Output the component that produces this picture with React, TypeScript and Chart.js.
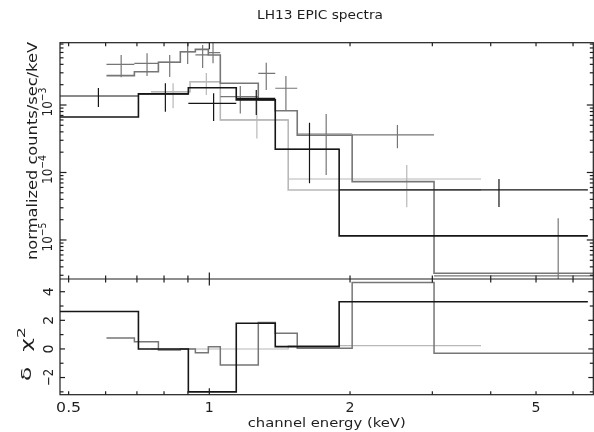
import React, { useEffect, useRef } from 'react';
import { Chart, registerables } from 'chart.js';

Chart.register(...registerables);

// ---------- text ----------
const TITLE = 'LH13 EPIC spectra';
const X_TITLE = 'channel energy (keV)';
const Y_TITLE = 'normalized counts/sec/keV';
const RES_TITLE = 'δ  χ';
const RES_TITLE_SUP = '2';

// ---------- axes ----------
const X_RANGE = [0.4792, 6.63];
const Y_TOP_RANGE = [2.643e-6, 8.375e-3];
const Y_RES_RANGE = [-3.2, 4.89];

const X_LABEL_TICKS = [0.5, 1, 2, 5];
const X_LABELS = ['0.5', '1', '2', '5'];
const X_MAJOR_TICKS = [1];
const X_MINOR_TICKS = [0.5, 0.6, 0.7, 0.8, 0.9, 2, 3, 4, 5, 6];
const Y_TOP_DECADES = [-6, -5, -4, -3, -2];
const Y_TOP_LABEL_DECADES = [-3, -4, -5];
const Y_TOP_LABEL_BASE = '10';
const Y_TOP_LABEL_EXP = ['−3', '−4', '−5'];
const Y_RES_LABEL_TICKS = [-2, 0, 2, 4];
const Y_RES_LABELS = ['−2', '0', '2', '4'];
const Y_RES_ALL_TICKS = [-3, -2, -1, 0, 1, 2, 3, 4];

// ---------- series 1 (black) ----------
const blackEdges = [0.4757, 0.7052, 0.9018, 1.1419, 1.3838, 1.8957, 6.455];
const blackModel = [6.64e-4, 1.46e-3, 1.8e-3, 1.19e-3, 2.21e-4, 1.15e-5];
const blackE = [0.579, 0.8053, 1.0214, 1.2602, 1.638, 4.166];
const blackData = [1.36e-3, 1.46e-3, 1.06e-3, 1.25e-3, 2.21e-4, 5.51e-5];
const blackErrHi = [1.79e-3, 2.1e-3, 1.49e-3, 1.67e-3, 5.47e-4, 8.01e-5];
const blackErrLo = [9.34e-4, 7.96e-4, 5.8e-4, 7.11e-4, 6.92e-5, 3.08e-5];
const blackResid = [2.62, 0.0, -3.0, 1.8, 0.16, 3.3];

// ---------- series 2 (mid grey) ----------
const midEdges = [0.6025, 0.6913, 0.7781, 0.8669, 0.9335, 0.9951, 1.0556, 1.2728, 1.3838, 1.542, 2.0211, 3.0255, 6.8];
const midModel = [2.72e-3, 3.11e-3, 4.3e-3, 6.16e-3, 6.68e-3, 5.51e-3, 2.1e-3, 1.19e-3, 8.23e-4, 3.56e-4, 7.31e-5, 3.21e-6];
const midE = [0.6477, 0.7358, 0.8227, 0.8988, 0.9676, 1.0184, 1.1648, 1.3237, 1.4583, 1.7783, 2.526, 5.577];
const midData = [4.01e-3, 4.15e-3, 4.3e-3, 6.16e-3, 5.51e-3, 5.96e-3, 1.33e-3, 2.95e-3, 1.77e-3, 3.72e-4, 3.6e-4, 2.93e-6];
const midErrHi = [5.51e-3, 5.83e-3, 5.51e-3, 8.29e-3, 7.74e-3, 8.6e-3, 1.91e-3, 4.24e-3, 2.69e-3, 7.36e-4, 5.06e-4, 2.09e-5];
const midErrLo = [2.57e-3, 2.69e-3, 2.6e-3, 4.05e-3, 3.53e-3, 4.15e-3, 7.5e-4, 1.67e-3, 8.43e-4, 9.18e-5, 2.28e-4, 2.65e-6];
const midResid = [0.77, 0.51, -0.07, 0.0, -0.26, 0.16, -1.12, 1.85, 1.1, 0.05, 4.65, -0.3];

// ---------- series 3 (light grey) ----------
const lightEdges = [0.7507, 0.9094, 1.0556, 1.475, 3.8132];
const lightModel = [1.57e-3, 2.21e-3, 6.0e-4, 5.51e-5];
const lightE = [0.8365, 0.9853, 1.264, 2.645];
const lightData = [1.57e-3, 2.21e-3, 6.0e-4, 8.01e-5];
const lightErrHi = [2.1e-3, 2.98e-3, 1.33e-3, 1.29e-4];
const lightErrLo = [8.93e-4, 1.41e-3, 3.2e-4, 3.05e-5];
const lightResid = [0.0, 0.0, 0.0, 0.23];

type P = { x: number; y: number | null };

function stepPts(edges: number[], vals: number[]): P[] {
  const pts: P[] = [];
  vals.forEach((v, i) => {
    pts.push({ x: edges[i], y: v });
    pts.push({ x: edges[i + 1], y: v });
  });
  return pts;
}
function hBars(edges: number[], vals: number[]): P[] {
  const pts: P[] = [];
  vals.forEach((v, i) => {
    pts.push({ x: edges[i], y: v }, { x: edges[i + 1], y: v }, { x: edges[i + 1], y: null });
  });
  return pts;
}
function vBars(es: number[], lo: number[], hi: number[]): P[] {
  const pts: P[] = [];
  es.forEach((e, i) => {
    pts.push({ x: e, y: lo[i] }, { x: e, y: hi[i] }, { x: e, y: null });
  });
  return pts;
}

const FONT = '"DejaVu Sans", sans-serif';
const INK = '#1e1e1e';

// draw text (optionally with a superscript) centred at the current origin,
// stretched horizontally to a target width
function drawFitted(ctx: CanvasRenderingContext2D, base: string, sup: string, size: number, supSize: number, targetW: number) {
  ctx.font = `${size}px ${FONT}`;
  const wb = ctx.measureText(base).width;
  let ws = 0;
  if (sup) {
    ctx.font = `${supSize}px ${FONT}`;
    ws = ctx.measureText(sup).width;
  }
  const total = wb + ws;
  const s = targetW > 0 ? targetW / total : 1;
  ctx.save();
  ctx.scale(s, 1);
  ctx.textAlign = 'left';
  ctx.font = `${size}px ${FONT}`;
  ctx.fillText(base, -total / 2, 0);
  if (sup) {
    ctx.font = `${supSize}px ${FONT}`;
    ctx.fillText(sup, -total / 2 + wb, -size * 0.45);
  }
  ctx.restore();
}

const decor = {
  id: 'decor',
  afterDraw(chart: any) {
    const ctx: CanvasRenderingContext2D = chart.ctx;
    const xs = chart.scales.x;
    const yt = chart.scales.yTop;
    const yr = chart.scales.yRes;
    const L = xs.left, R = xs.right;
    const T = yt.top, M = yt.bottom, B = yr.bottom;
    ctx.save();
    ctx.strokeStyle = INK;
    ctx.lineWidth = 1.2;
    const seg = (x1: number, y1: number, x2: number, y2: number) => {
      ctx.beginPath(); ctx.moveTo(x1, y1); ctx.lineTo(x2, y2); ctx.stroke();
    };
    ctx.strokeRect(L, T, R - L, B - T);
    seg(L, M, R, M);

    // x ticks
    const xt = (v: number, len: number) => {
      const px = xs.getPixelForValue(v);
      seg(px, T, px, T + len);
      seg(px, M, px, M - len);
      seg(px, M, px, M + len);
      seg(px, B, px, B - len);
    };
    X_MINOR_TICKS.forEach(v => xt(v, 3.5));
    X_MAJOR_TICKS.forEach(v => xt(v, 6.5));

    // top y ticks (log)
    Y_TOP_DECADES.forEach(d => {
      for (let m = 1; m <= 9; m++) {
        const v = m * Math.pow(10, d);
        if (v < Y_TOP_RANGE[0] || v > Y_TOP_RANGE[1]) continue;
        const py = yt.getPixelForValue(v);
        const len = m === 1 ? 6.5 : 3.5;
        seg(L, py, L + len, py);
        seg(R, py, R - len, py);
      }
    });
    // residual ticks
    Y_RES_ALL_TICKS.forEach(v => {
      const py = yr.getPixelForValue(v);
      const len = v % 2 === 0 ? 5 : 3.5;
      seg(L, py, L + len, py);
      seg(R, py, R - len, py);
    });

    ctx.fillStyle = INK;
    ctx.textBaseline = 'alphabetic';

    const at = (x: number, y: number, rotate: boolean, fn: () => void) => {
      ctx.save(); ctx.translate(x, y); if (rotate) ctx.rotate(-Math.PI / 2); fn(); ctx.restore();
    };

    // title
    at(320, 18.5, false, () => drawFitted(ctx, TITLE, '', 11.5, 0, 126));
    // x tick labels
    X_LABEL_TICKS.forEach((v, i) => {
      const w = X_LABELS[i].length === 1 ? 9 : 25;
      at(xs.getPixelForValue(v), 411.5, false, () => drawFitted(ctx, X_LABELS[i], '', 13.5, 0, w));
    });
    // x title
    at((L + R) / 2, 426.5, false, () => drawFitted(ctx, X_TITLE, '', 13, 0, 158));
    // y title
    at(37, 151, true, () => drawFitted(ctx, Y_TITLE, '', 13.5, 0, 218));
    // top y labels
    Y_TOP_LABEL_DECADES.forEach((d, i) => {
      const py = yt.getPixelForValue(Math.pow(10, d));
      at(52, py - 3, true, () => drawFitted(ctx, Y_TOP_LABEL_BASE, Y_TOP_LABEL_EXP[i], 13.5, 10.5, 29));
    });
    // residual labels
    Y_RES_LABEL_TICKS.forEach((v, i) => {
      const py = yr.getPixelForValue(v);
      const w = Y_RES_LABELS[i].length === 1 ? 9 : 17;
      at(53, py, true, () => drawFitted(ctx, Y_RES_LABELS[i], '', 13.5, 0, w));
    });
    // residual title
    at(31, 354, true, () => drawFitted(ctx, RES_TITLE, RES_TITLE_SUP, 14, 10.5, 54));
    ctx.restore();
  },
};

const COLORS = { black: '#161616', mid: '#767676', light: '#b8b8b8' };

function seriesSets(color: string, edges: number[], model: number[], es: number[], data: number[], lo: number[], hi: number[], resid: number[], residW: number) {
  const common = { borderColor: color, pointRadius: 0, pointHoverRadius: 0, fill: false, tension: 0, spanGaps: false, borderCapStyle: 'butt', borderJoinStyle: 'miter' };
  return [
    { ...common, data: stepPts(edges, model), yAxisID: 'yTop', borderWidth: 1.6 },
    { ...common, data: hBars(edges, data), yAxisID: 'yTop', borderWidth: 1.2 },
    { ...common, data: vBars(es, lo, hi), yAxisID: 'yTop', borderWidth: 1.2 },
    { ...common, data: stepPts(edges, resid), yAxisID: 'yRes', borderWidth: residW },
  ];
}

export default function App() {
  const ref = useRef<HTMLCanvasElement | null>(null);
  useEffect(() => {
    if (!ref.current) return;
    const datasets: any[] = [
      ...seriesSets(COLORS.black, blackEdges, blackModel, blackE, blackData, blackErrLo, blackErrHi, blackResid, 1.6),
      ...seriesSets(COLORS.mid, midEdges, midModel, midE, midData, midErrLo, midErrHi, midResid, 1.5),
      ...seriesSets(COLORS.light, lightEdges, lightModel, lightE, lightData, lightErrLo, lightErrHi, lightResid, 1.1),
    ];
    const chart = new Chart(ref.current, {
      type: 'line',
      data: { datasets },
      options: {
        animation: false,
        responsive: false,
        devicePixelRatio: 1,
        layout: { padding: { left: 60, right: 0.7, top: 42.7, bottom: 37.3 } },
        plugins: { legend: { display: false }, tooltip: { enabled: false }, title: { display: false } },
        events: [],
        scales: {
          x: { type: 'logarithmic', min: X_RANGE[0], max: X_RANGE[1], display: false },
          yRes: { type: 'linear', position: 'left', min: Y_RES_RANGE[0], max: Y_RES_RANGE[1], display: false, stack: 'v', stackWeight: 1, weight: 1 } as any,
          yTop: { type: 'logarithmic', position: 'left', min: Y_TOP_RANGE[0], max: Y_TOP_RANGE[1], display: false, stack: 'v', stackWeight: 2.042, weight: 2 } as any,
        },
      } as any,
      plugins: [decor],
    });
    return () => chart.destroy();
  }, []);
  return (
    <div style={{ position: 'absolute', left: 0, top: 0, width: 594, height: 432, background: '#fff' }}>
      <canvas ref={ref} width={594} height={432} style={{ width: 594, height: 432, display: 'block' }} />
    </div>
  );
}
